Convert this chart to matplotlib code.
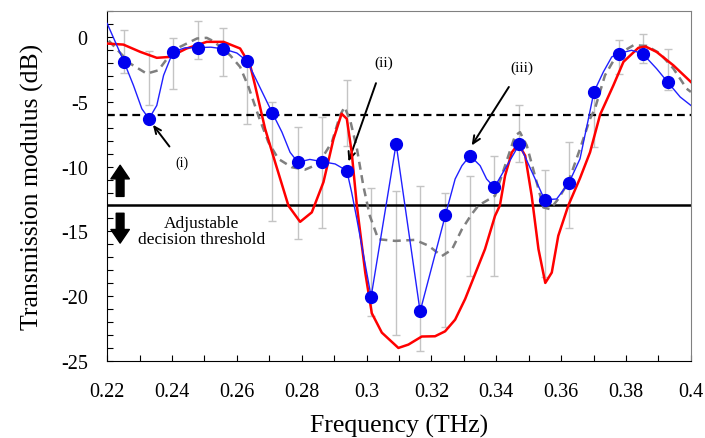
import matplotlib
matplotlib.use('Agg')
import matplotlib.pyplot as plt
from matplotlib.ticker import MultipleLocator, FuncFormatter

# measured points (blue dots)
dot_freq = [0.2252, 0.2329, 0.2403, 0.2481, 0.2558, 0.2632, 0.2709, 0.2788, 0.2862, 0.2939,
            0.3014, 0.3091, 0.3165, 0.3243, 0.3319, 0.3394, 0.3471, 0.3549, 0.3624, 0.3701,
            0.3777, 0.3851, 0.3928]
dot_db = [-1.93, -6.32, -1.16, -0.83, -0.93, -1.89, -5.85, -9.67, -9.62, -10.32,
          -20.03, -8.25, -21.17, -13.74, -9.16, -11.6, -8.28, -12.56, -11.25, -4.25,
          -1.29, -1.29, -3.48]

# error bar ends (grey bars)
err_hi = [0.51, -1.08, -0.13, 1.21, 0.70, -1.6, -5.0, -6.96, -6.19, -3.35,
          -11.65, -11.86, -11.52, -12.0, -10.7, -9.16, -5.24, -10.24, -8.12, -4.0,
          -0.26, 0.2, -0.96]
err_lo = [-2.76, -5.24, -4.05, -1.73, -3.05, -6.71, -14.18, -15.6, -14.77, -8.38,
          -21.48, -23.0, -24.2, -22.4, -18.44, -18.44, -9.67, -18.5, -14.77, -8.5,
          -2.84, -2.0, -4.13]

# thin blue curve through the dots
blue_freq = [0.2200, 0.2225, 0.2252, 0.2281, 0.2307, 0.2329, 0.2353, 0.2374, 0.2403, 0.2440,
             0.2481, 0.2520, 0.2558, 0.2600, 0.2632, 0.2709, 0.2739, 0.2764, 0.2788, 0.2825,
             0.2862, 0.2903, 0.2939, 0.2954, 0.2970, 0.3014, 0.3091, 0.3165, 0.3243, 0.3273,
             0.3294, 0.3319, 0.3350, 0.3370, 0.3394, 0.3471, 0.3549, 0.3586, 0.3624, 0.3658,
             0.3684, 0.3701, 0.3730, 0.3756, 0.3777, 0.3817, 0.3851, 0.3894, 0.3928, 0.3967,
             0.4000]
blue_db = [1.03, -0.39, -1.93, -3.74, -5.55, -6.32, -5.29, -2.97, -1.16, -0.85,
           -0.83, -0.80, -0.93, -1.25, -1.89, -5.85, -7.35, -8.9, -9.67, -9.45,
           -9.62, -9.8, -10.32, -12.0, -14.05, -20.03, -8.25, -21.17, -13.74, -10.96,
           -9.93, -9.16, -9.93, -10.96, -11.6, -8.28, -12.56, -12.5, -11.25, -9.41,
           -6.32, -4.25, -2.71, -1.55, -1.29, -1.04, -1.29, -2.45, -3.48, -4.64,
           -5.29]

# red curve
red_freq = [0.2200, 0.2250, 0.2302, 0.2353, 0.2393, 0.2445, 0.2507, 0.2559, 0.2610, 0.2641,
            0.2656, 0.2687, 0.2718, 0.2759, 0.2795, 0.2831, 0.2867, 0.2898, 0.2923, 0.2939,
            0.2954, 0.2970, 0.2996, 0.3016, 0.3047, 0.3098, 0.3129, 0.3170, 0.3211, 0.3242,
            0.3273, 0.3304, 0.3365, 0.3396, 0.3411, 0.3427, 0.3448, 0.3468, 0.3489, 0.3509,
            0.3530, 0.3551, 0.3571, 0.3591, 0.3622, 0.3658, 0.3689, 0.3720, 0.3761, 0.3792,
            0.3838, 0.3860, 0.3894, 0.3946, 0.4000]
red_db = [-0.52, -0.6, -1.16, -1.62, -1.55, -0.9, -0.39, -0.39, -0.9, -2.2,
          -3.74, -7.09, -9.67, -13.02, -14.26, -13.53, -11.2, -7.87, -5.93, -6.32,
          -8.9, -13.02, -18.2, -21.3, -22.8, -23.98, -23.72, -23.1, -23.08, -22.7,
          -21.8, -20.2, -16.37, -13.8, -13.0, -10.7, -8.9, -8.25, -9.16, -12.25,
          -16.37, -18.97, -18.17, -15.34, -13.0, -10.9, -8.9, -6.0, -3.74, -1.93,
          -0.85, -0.75, -1.16, -2.2, -3.48]

# grey dashed curve
grey_freq = [0.2205, 0.2220, 0.2271, 0.2322, 0.2358, 0.2389, 0.2425, 0.2477, 0.2507, 0.2528,
             0.2579, 0.2610, 0.2636, 0.2666, 0.2697, 0.2728, 0.2769, 0.2810, 0.2851, 0.2893,
             0.2918, 0.2932, 0.2950, 0.2970, 0.2990, 0.3010, 0.3036, 0.3088, 0.3149, 0.3191,
             0.3232, 0.3263, 0.3294, 0.3324, 0.3345, 0.3396, 0.3427, 0.3458, 0.3473, 0.3494,
             0.3519, 0.3545, 0.3566, 0.3591, 0.3622, 0.3658, 0.3689, 0.3704, 0.3735, 0.3771,
             0.3823, 0.3864, 0.3905, 0.3946, 0.3987, 0.4000]
grey_db = [-0.3, -0.70, -2.06, -2.84, -2.58, -1.55, -0.77, -0.13, -0.08, -0.34,
           -1.42, -2.32, -3.87, -6.06, -8.12, -9.41, -10.05, -10.24, -9.8, -8.12,
           -6.06, -5.41, -6.5, -8.6, -11.5, -13.8, -15.6, -15.73, -15.65, -16.1,
           -16.9, -16.4, -14.83, -13.67, -13.0, -12.25, -9.93, -7.61, -7.35, -8.38,
           -10.7, -13.15, -13.28, -12.5, -11.2, -8.64, -6.32, -5.55, -2.97, -1.42,
           -0.65, -0.70, -1.29, -2.45, -4.0, -4.25]

upper_level = -6
threshold = -13

plt.rcParams['font.family'] = ['Liberation Serif', 'DejaVu Serif']
plt.rcParams['axes.unicode_minus'] = False

fig = plt.figure(figsize=(7.05, 4.39), dpi=100)
ax = fig.add_axes([0.152, 0.175, 0.828, 0.798])

mid = [(h + l) / 2 for h, l in zip(err_hi, err_lo)]
half = [(h - l) / 2 for h, l in zip(err_hi, err_lo)]
ax.errorbar(dot_freq, mid, yerr=half, fmt='none', ecolor='#c4c4c4',
            elinewidth=1.0, capsize=3, capthick=1.0, zorder=1)

ax.axhline(upper_level, color='black', lw=1.6, ls=(0, (3.5, 2.2)), zorder=2)
ax.axhline(threshold, color='black', lw=1.8, zorder=2)

ax.plot(grey_freq, grey_db, color='#7f7f7f', lw=1.8, ls=(0, (3.2, 2.2)), zorder=3)
ax.plot(red_freq, red_db, color='#ff0000', lw=1.8, solid_joinstyle='round', zorder=4)
ax.plot(blue_freq, blue_db, color='#2020ff', lw=1.0, solid_joinstyle='round', zorder=5)
ax.plot(dot_freq, dot_db, 'o', color='#0000ee', ms=8.5, zorder=6)

# annotations
arrow_kw = dict(arrowstyle='->,head_length=0.5,head_width=0.22', color='black', lw=1.4)
ax.annotate('(i)', xy=(0.2341, -6.78), xytext=(0.2430, -9.7), fontsize=10,
            ha='center', va='center', arrowprops=dict(arrow_kw, shrinkA=6, shrinkB=0))
ax.annotate('(ii)', xy=(0.2944, -9.62), xytext=(0.3052, -1.93), fontsize=11,
            ha='center', va='center', arrowprops=dict(arrow_kw, shrinkA=9, shrinkB=0))
ax.annotate('(iii)', xy=(0.3324, -8.38), xytext=(0.3478, -2.32), fontsize=11,
            ha='center', va='center', arrowprops=dict(arrow_kw, shrinkA=9, shrinkB=0))

big_arrow = dict(arrowstyle='simple,head_length=0.7,head_width=0.95,tail_width=0.4',
                 color='black', mutation_scale=14, shrinkA=0, shrinkB=0)
ax.annotate('', xy=(0.2240, -9.9), xytext=(0.2240, -12.3), arrowprops=big_arrow)
ax.annotate('', xy=(0.2240, -15.9), xytext=(0.2240, -13.6), arrowprops=big_arrow)
ax.text(0.2492, -15.0, 'Adjustable\ndecision threshold', fontsize=12.5,
        ha='center', va='center', linespacing=1.0)

ax.set_xlim(0.22, 0.4)
ax.set_ylim(-25, 2)
ax.xaxis.set_major_locator(MultipleLocator(0.02))
ax.xaxis.set_minor_locator(MultipleLocator(0.01))
ax.yaxis.set_major_locator(MultipleLocator(5))
ax.yaxis.set_minor_locator(MultipleLocator(1))
ax.xaxis.set_major_formatter(FuncFormatter(lambda v, p: '%g' % round(v, 2)))
ax.yaxis.set_major_formatter(FuncFormatter(lambda v, p: '%d' % round(v)))
ax.tick_params(which='both', direction='in', length=4, width=0.8, top=False, right=False)
ax.tick_params(axis='x', which='major', labelsize=14.5, pad=15)
ax.tick_params(axis='y', which='major', labelsize=14.5, pad=14)

for side in ['top', 'right']:
    ax.spines[side].set_color('#808080')
for side in ['left', 'bottom']:
    ax.spines[side].set_color('black')

ax.set_xlabel('Frequency (THz)', fontsize=18.5, labelpad=9)
ax.set_ylabel('Transmission modulus (dB)', fontsize=18.5, labelpad=12)

fig.savefig('out.png', dpi=100)
